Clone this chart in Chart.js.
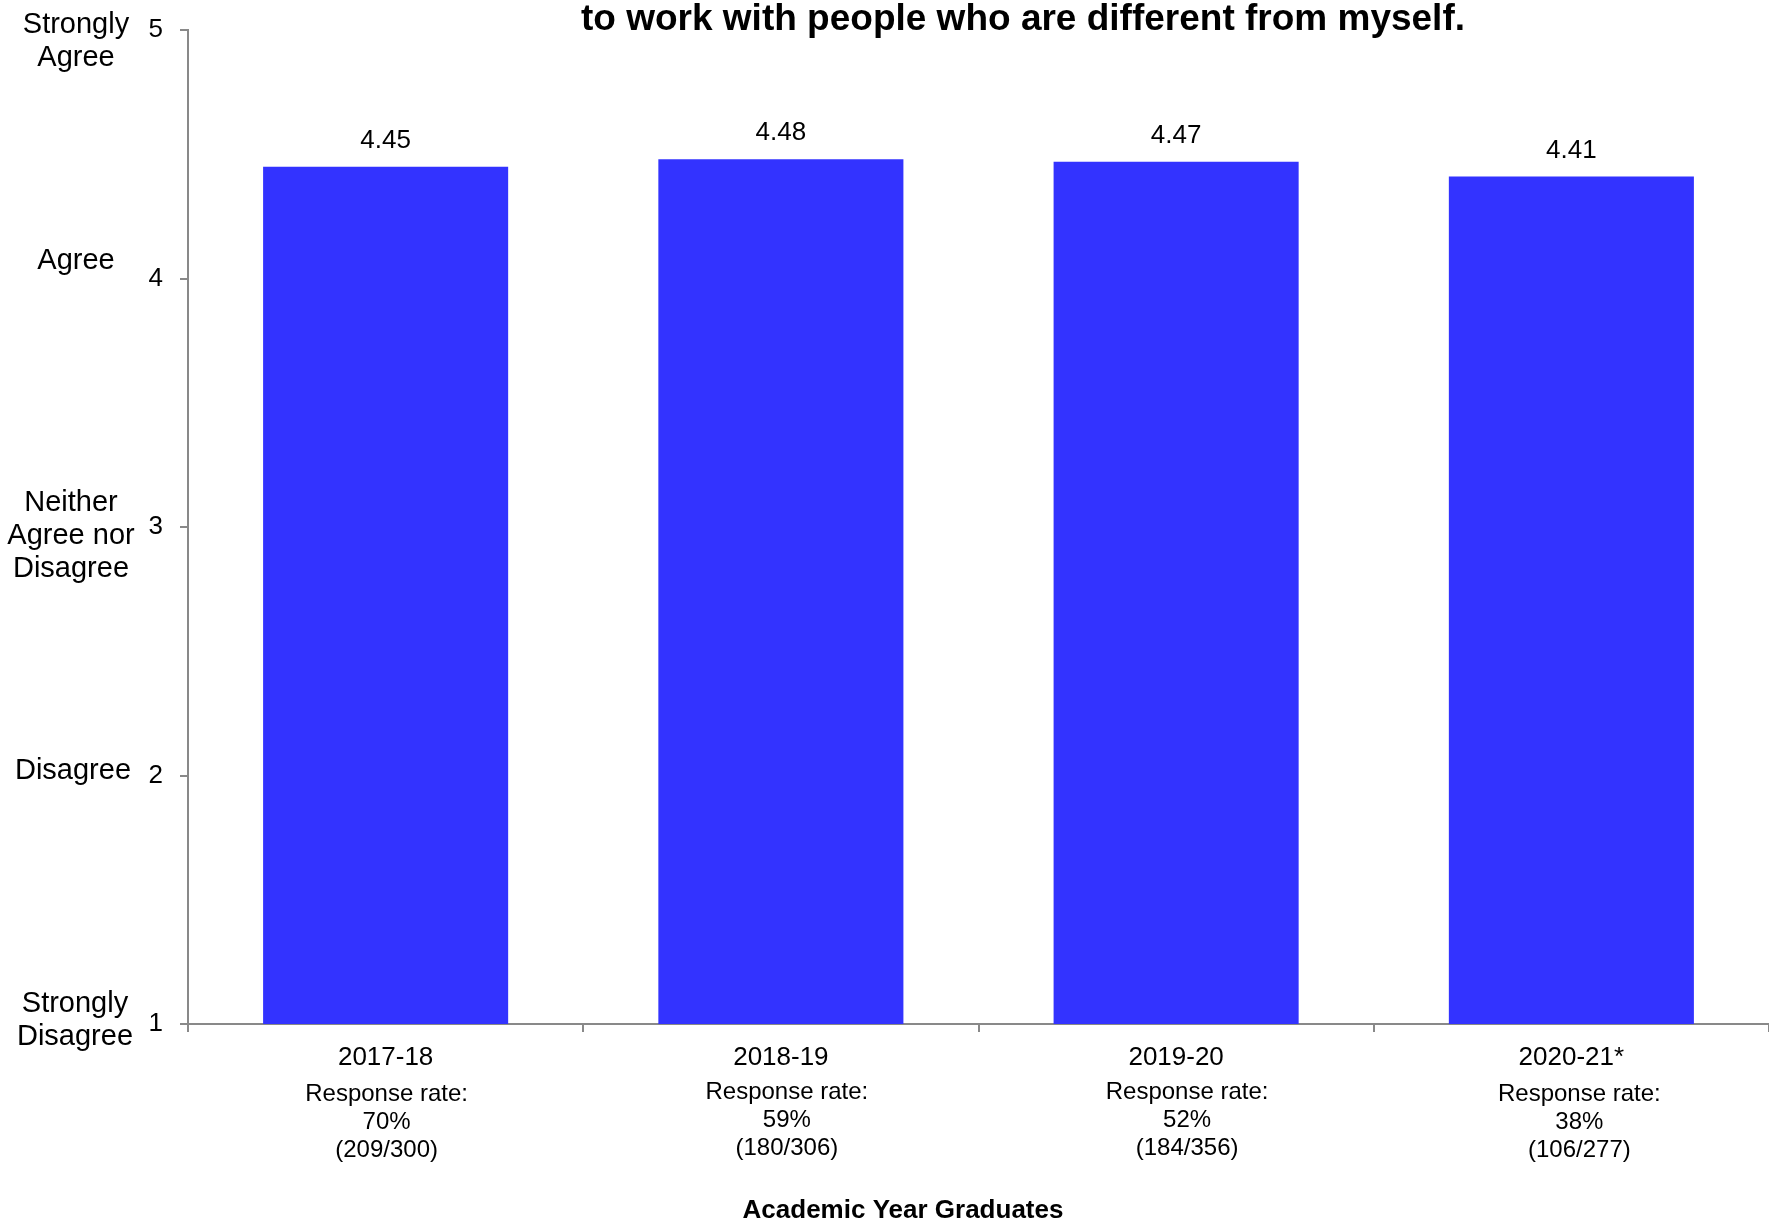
<!DOCTYPE html>
<html>
<head>
<meta charset="utf-8">
<script src="https://cdn.jsdelivr.net/npm/chart.js@4.4.0/dist/chart.umd.min.js"></script>
<style>
  html, body { margin: 0; padding: 0; background: #fff; }
  #wrap { width: 1769px; height: 1221px; }
</style>
</head>
<body>
<div id="wrap"><canvas id="myChart" width="1769" height="1221"></canvas></div>
<script>
// data
var years = ['2017-18', '2018-19', '2019-20', '2020-21*'];
var meanScores = [4.45, 4.48, 4.47, 4.41];
var responsePct = ['70%', '59%', '52%', '38%'];
var responseCounts = ['(209/300)', '(180/306)', '(184/356)', '(106/277)'];
var scaleValues = [1, 2, 3, 4, 5];
var scaleNames = [['Strongly', 'Disagree'], ['Disagree'], ['Neither', 'Agree nor', 'Disagree'], ['Agree'], ['Strongly', 'Agree']];
var titleLine = 'to work with people who are different from myself.';
var xTitle = 'Academic Year Graduates';

var FONT = '"Liberation Sans", Arial, sans-serif';

// extra text: title line, bar values, response rates, scale names, axis title
var textPlugin = {
    id: 'extraText',
    afterDraw: function (chart) {
        var ctx = chart.ctx;
        var xs = chart.scales.x;
        var ys = chart.scales.y;
        var bars = chart.getDatasetMeta(0).data;
        ctx.save();
        ctx.fillStyle = '#000';
        ctx.textAlign = 'center';

        ctx.font = 'bold 37px ' + FONT;
        ctx.textBaseline = 'alphabetic';
        ctx.fillText(titleLine, 1023, 30);

        ctx.font = '26px ' + FONT;
        ctx.textBaseline = 'middle';
        for (var i = 0; i < bars.length; i++) {
            ctx.fillText(meanScores[i].toFixed(2), bars[i].x, bars[i].y - 26);
        }

        var dx = [1, 6, 11, 8];
        var dy = [0, -2, -2, 0];
        ctx.font = '24px ' + FONT;
        for (var i = 0; i < bars.length; i++) {
            var lines = ['Response rate:', responsePct[i], responseCounts[i]];
            for (var k = 0; k < lines.length; k++) {
                ctx.fillText(lines[k], bars[i].x + dx[i], xs.top + 70 + dy[i] + k * 28);
            }
        }

        var nameX = [75, 73, 71, 76, 76];
        var nameDy = [-4, -5, 9, -18, 11];
        ctx.font = '29px ' + FONT;
        for (var j = 0; j < scaleValues.length; j++) {
            var names = scaleNames[j];
            var cy = ys.getPixelForValue(scaleValues[j]) + nameDy[j];
            for (var k = 0; k < names.length; k++) {
                ctx.fillText(names[k], nameX[j], cy - (names.length - 1) * 16.5 + k * 33);
            }
        }

        ctx.font = 'bold 26px ' + FONT;
        ctx.fillText(xTitle, 903, 1211);
        ctx.restore();
    }
};

var ctx = document.getElementById('myChart');

var chart = new Chart(ctx, {
    type: 'bar',
    data: {
        labels: years,
        datasets: [{
            label: 'Mean',
            data: meanScores,
            backgroundColor: '#3333ff',
            borderWidth: 0,
            barPercentage: 0.62,
            categoryPercentage: 1.0
        }]
    },
    options: {
        responsive: false,
        animation: false,
        layout: { padding: { top: 30, right: 0, left: 0, bottom: 0 } },
        plugins: {
            legend: { display: false },
            title: { display: false },
            tooltip: { enabled: false }
        },
        scales: {
            x: {
                grid: {
                    offset: true,
                    drawOnChartArea: false,
                    color: '#898989',
                    lineWidth: 2,
                    tickLength: 8
                },
                border: { color: '#898989', width: 2 },
                ticks: {
                    color: '#000',
                    font: { family: FONT, size: 26 },
                    padding: 10,
                    maxRotation: 0
                },
                afterFit: function (scale) {
                    scale.height = 197;
                    scale.paddingLeft = 0;
                    scale.paddingRight = 0;
                }
            },
            y: {
                min: 1,
                max: 5,
                grid: {
                    drawOnChartArea: false,
                    color: '#898989',
                    lineWidth: 2,
                    tickLength: 8
                },
                border: { color: '#898989', width: 2 },
                ticks: {
                    stepSize: 1,
                    color: '#000',
                    font: { family: FONT, size: 26 },
                    padding: 17
                },
                afterFit: function (scale) {
                    scale.width = 188;
                    scale.paddingTop = 0;
                    scale.paddingBottom = 0;
                }
            }
        }
    },
    plugins: [textPlugin]
});
</script>
</body>
</html>
